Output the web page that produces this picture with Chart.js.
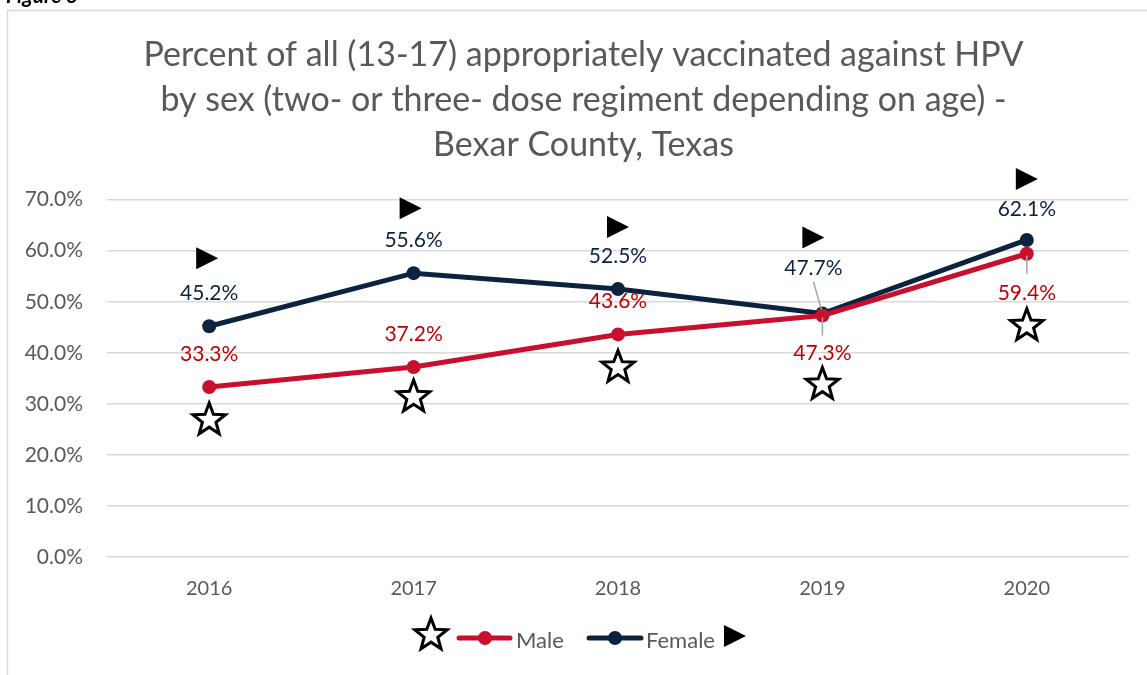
<!DOCTYPE html>
<html>
<head>
<meta charset="utf-8">
<script src="https://cdn.jsdelivr.net/npm/chart.js@4.4.0/dist/chart.umd.min.js"></script>
<style>
  html, body { margin: 0; padding: 0; background: #fff; overflow: hidden; }
  #wrap { position: relative; width: 1147px; height: 675px; }
  #fig { position: absolute; left: 6px; top: -18px; font: italic bold 21px Lato, sans-serif; color: #000; }
</style>
</head>
<body>
<div id="wrap">
  <div id="fig">Figure 3</div>
  <canvas id="hpvChart" width="1147" height="675"></canvas>
</div>
<script>
// Data
const years = ['2016', '2017', '2018', '2019', '2020'];
const maleValues = [33.3, 37.2, 43.6, 47.3, 59.4];
const femaleValues = [45.2, 55.6, 52.5, 47.7, 62.1];
const yTicks = [0, 10, 20, 30, 40, 50, 60, 70];

const MALE = '#C8102E';
const MALE_TEXT = '#C00000';
const FEMALE = '#0C2340';
const GREY_TEXT = '#595959';
const FONT = 'Lato, "Noto Sans", sans-serif';

// where each data label sits (pixels from the point), and leader lines
const maleLabelDy = [-33, -33, -33, 38, 39];
const femaleLabelDy = [-33, -33, -33, -45, -31];
const femaleLabelDx = [0, 0, 0, -9, 0];
// annotation glyphs
const starDy = [33, 30, 33, 69, 72];
const triDy = [-68, -65, -62, -76, -61];
const triDx = [-2, -3, 0, -9, 0];

function drawStar(ctx, x, y, r) {
    ctx.save();
    ctx.beginPath();
    for (let i = 0; i < 10; i++) {
        const rad = i % 2 === 0 ? r : r * 0.42;
        const a = -Math.PI / 2 + i * Math.PI / 5;
        const px = x + rad * Math.cos(a), py = y + rad * Math.sin(a);
        if (i === 0) ctx.moveTo(px, py); else ctx.lineTo(px, py);
    }
    ctx.closePath();
    ctx.fillStyle = '#fff';
    ctx.fill();
    ctx.lineWidth = 3;
    ctx.lineJoin = 'miter';
    ctx.strokeStyle = '#000';
    ctx.stroke();
    ctx.restore();
}

function drawTriangle(ctx, x, y, s) {
    ctx.save();
    ctx.beginPath();
    ctx.moveTo(x - s / 2, y - s / 2);
    ctx.lineTo(x + s / 2, y);
    ctx.lineTo(x - s / 2, y + s / 2);
    ctx.closePath();
    ctx.fillStyle = '#000';
    ctx.fill();
    ctx.restore();
}

const frameAndLabels = {
    id: 'frameAndLabels',
    afterLayout(chart) {
        // title is centred a little right of the canvas middle
        if (chart.titleBlock) chart.titleBlock.left += 38;
    },
    beforeDraw(chart) {
        const ctx = chart.ctx;
        ctx.save();
        ctx.strokeStyle = '#D9D9D9';
        ctx.lineWidth = 1.5;
        ctx.beginPath();
        ctx.moveTo(7.5, 675);
        ctx.lineTo(7.5, 10.5);
        ctx.lineTo(1147, 10.5);
        ctx.stroke();
        ctx.restore();
    },
    afterDatasetsDraw(chart) {
        const ctx = chart.ctx;
        const male = chart.getDatasetMeta(0).data;
        const female = chart.getDatasetMeta(1).data;
        ctx.save();

        // leader lines
        ctx.strokeStyle = '#A6A6A6';
        ctx.lineWidth = 1.5;
        ctx.beginPath();
        ctx.moveTo(female[3].x - 9, female[3].y - 32);
        ctx.lineTo(female[3].x - 1, female[3].y - 4);
        ctx.moveTo(male[3].x, male[3].y + 2);
        ctx.lineTo(male[3].x, male[3].y + 20);
        ctx.moveTo(male[4].x, male[4].y + 2);
        ctx.lineTo(male[4].x, male[4].y + 20);
        ctx.stroke();

        ctx.font = '21px ' + FONT;
        ctx.textAlign = 'center';
        ctx.textBaseline = 'middle';
        male.forEach((p, i) => {
            ctx.fillStyle = MALE_TEXT;
            ctx.fillText(maleValues[i].toFixed(1) + '%', p.x, p.y + maleLabelDy[i]);
        });
        female.forEach((p, i) => {
            ctx.fillStyle = FEMALE;
            ctx.fillText(femaleValues[i].toFixed(1) + '%', p.x + femaleLabelDx[i], p.y + femaleLabelDy[i]);
        });

        male.forEach((p, i) => drawStar(ctx, p.x, p.y + starDy[i], 17));
        female.forEach((p, i) => drawTriangle(ctx, p.x + triDx[i], p.y + triDy[i], 22));

        // legend
        const ly = 638;
        drawStar(ctx, 431, ly - 3, 17);
        ctx.lineCap = 'round';
        ctx.lineWidth = 5;
        ctx.strokeStyle = MALE;
        ctx.beginPath(); ctx.moveTo(459, ly); ctx.lineTo(510, ly); ctx.stroke();
        ctx.fillStyle = MALE;
        ctx.beginPath(); ctx.arc(485, ly, 7, 0, Math.PI * 2); ctx.fill();
        ctx.strokeStyle = FEMALE;
        ctx.beginPath(); ctx.moveTo(589, ly); ctx.lineTo(641, ly); ctx.stroke();
        ctx.fillStyle = FEMALE;
        ctx.beginPath(); ctx.arc(615, ly, 7, 0, Math.PI * 2); ctx.fill();
        ctx.font = '22px ' + FONT;
        ctx.textAlign = 'left';
        ctx.fillStyle = GREY_TEXT;
        ctx.fillText('Male', 516, ly + 3);
        ctx.fillText('Female', 646, ly + 3);
        drawTriangle(ctx, 735, ly - 2, 22);
        ctx.restore();
    }
};

new Chart(document.getElementById('hpvChart'), {
    type: 'line',
    data: {
        labels: years,
        datasets: [
            {
                label: 'Male',
                data: maleValues,
                borderColor: MALE,
                backgroundColor: MALE,
                borderWidth: 5,
                pointRadius: 7,
                pointBackgroundColor: MALE,
                pointBorderWidth: 0,
                tension: 0
            },
            {
                label: 'Female',
                data: femaleValues,
                borderColor: FEMALE,
                backgroundColor: FEMALE,
                borderWidth: 5,
                pointRadius: 7,
                pointBackgroundColor: FEMALE,
                pointBorderWidth: 0,
                tension: 0
            }
        ]
    },
    options: {
        responsive: false,
        animation: false,
        layout: { padding: { left: 0, right: 18, top: 0, bottom: 0 } },
        plugins: {
            legend: { display: false },
            tooltip: { enabled: false },
            title: {
                display: true,
                text: [
                    'Percent of all (13-17) appropriately vaccinated against HPV',
                    'by sex (two- or three- dose regiment depending on age) -',
                    'Bexar County, Texas'
                ],
                color: GREY_TEXT,
                font: { family: FONT, size: 34, weight: 'normal', lineHeight: 1.32 },
                padding: { top: 33, bottom: 32 }
            }
        },
        scales: {
            x: {
                grid: { display: false },
                border: { display: false },
                ticks: { color: GREY_TEXT, font: { family: FONT, size: 20 }, padding: 12 },
                offset: true,
                afterFit(scale) { scale.height = 118; }
            },
            y: {
                min: 0,
                max: 70,
                afterBuildTicks(scale) { scale.ticks = yTicks.map(v => ({ value: v })); },
                grid: { color: '#D9D9D9', lineWidth: 1.5, drawTicks: false },
                border: { display: false },
                ticks: {
                    color: GREY_TEXT,
                    font: { family: FONT, size: 21 },
                    padding: 24,
                    callback: v => v.toFixed(1) + '%'
                },
                afterFit(scale) { scale.width = 107; }
            }
        }
    },
    plugins: [frameAndLabels]
});
</script>
</body>
</html>
